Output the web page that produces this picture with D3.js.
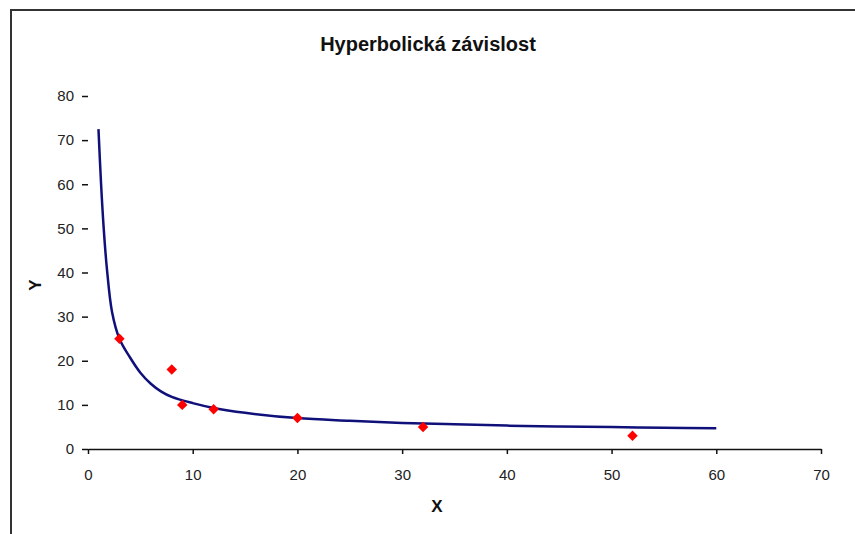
<!DOCTYPE html>
<html>
<head>
<meta charset="utf-8">
<script src="https://cdn.jsdelivr.net/npm/d3@7"></script>
<style>
  html, body { margin: 0; padding: 0; background: #fff; }
  svg { display: block; }
  text { font-family: "Liberation Sans", Arial, sans-serif; }
</style>
</head>
<body>
<svg id="chart" width="855" height="534"></svg>
<script>
// Data
const pointX = [3, 8, 9, 12, 20, 32, 52];
const pointY = [25, 18, 10, 9, 7, 5, 3];

// Trend curve, values
const curveX = [1, 1.25, 1.5, 1.8, 2.3, 3, 4, 5, 6, 7, 8, 10, 12, 15, 20, 25, 30, 35, 40, 45, 50, 55, 60];
const curveY = [72.5, 60, 50, 41, 31, 25, 20.8, 17.3, 14.8, 13, 11.8, 10.4, 9.3, 8.2, 7.0, 6.4, 5.9, 5.6, 5.3, 5.1, 5.0, 4.8, 4.7];

const xTicks = [0, 10, 20, 30, 40, 50, 60, 70];
const yTicks = [0, 10, 20, 30, 40, 50, 60, 70, 80];

const title = "Hyperbolická závislost";
const xTitle = "X";
const yTitle = "Y";

const svg = d3.select("#chart");

// frame (top and left border)
svg.append("path")
  .attr("d", "M11,534 V10 H855")
  .attr("fill", "none")
  .attr("stroke", "#333")
  .attr("stroke-width", 2);

const x = d3.scaleLinear().domain([0, 70]).range([88, 821]);
const y = d3.scaleLinear().domain([0, 80]).range([449, 96]);

// title
svg.append("text")
  .attr("x", 428).attr("y", 51)
  .attr("text-anchor", "middle")
  .attr("font-weight", "bold")
  .attr("font-size", 20)
  .attr("fill", "#111")
  .text(title);

// x axis
const gx = svg.append("g")
  .attr("transform", `translate(0,${y(0)})`)
  .call(d3.axisBottom(x).tickValues(xTicks).tickSize(5).tickSizeOuter(0).tickPadding(15).tickFormat(d3.format("d")));
gx.select(".domain").attr("stroke", "#111").attr("stroke-width", 1.5);
gx.selectAll(".tick line").attr("stroke", "#111").attr("stroke-width", 1.5);
gx.selectAll(".tick text").attr("font-size", 15).attr("fill", "#222").attr("font-family", "Liberation Sans, Arial, sans-serif");

// y axis
const gy = svg.append("g")
  .attr("transform", `translate(${x(0)},0)`)
  .call(d3.axisLeft(y).tickValues(yTicks).tickSize(6).tickPadding(8).tickFormat(d3.format("d")));
gy.select(".domain").remove();
gy.selectAll(".tick line").attr("stroke", "#111").attr("stroke-width", 1.5);
gy.selectAll(".tick text").attr("font-size", 15).attr("fill", "#222").attr("font-family", "Liberation Sans, Arial, sans-serif");

// axis titles
svg.append("text")
  .attr("x", 437).attr("y", 512)
  .attr("text-anchor", "middle")
  .attr("font-weight", "bold")
  .attr("font-size", 17)
  .attr("fill", "#111")
  .text(xTitle);

svg.append("text")
  .attr("transform", `translate(41,285) rotate(-90)`)
  .attr("text-anchor", "middle")
  .attr("font-weight", "bold")
  .attr("font-size", 17)
  .attr("fill", "#111")
  .text(yTitle);

// curve
const curveData = curveX.map((d, i) => [d, curveY[i]]);
svg.append("path")
  .datum(curveData)
  .attr("fill", "none")
  .attr("stroke", "#10107a")
  .attr("stroke-width", 2.5)
  .attr("d", d3.line().x(d => x(d[0])).y(d => y(d[1])).curve(d3.curveCatmullRom.alpha(0.5)));

// points
const pts = pointX.map((d, i) => [d, pointY[i]]);
svg.append("g").selectAll("path")
  .data(pts)
  .join("path")
  .attr("transform", d => `translate(${x(d[0])},${y(d[1])})`)
  .attr("d", d3.symbol().type(d3.symbolDiamond2).size(70))
  .attr("fill", "#ff0000");
</script>
</body>
</html>
